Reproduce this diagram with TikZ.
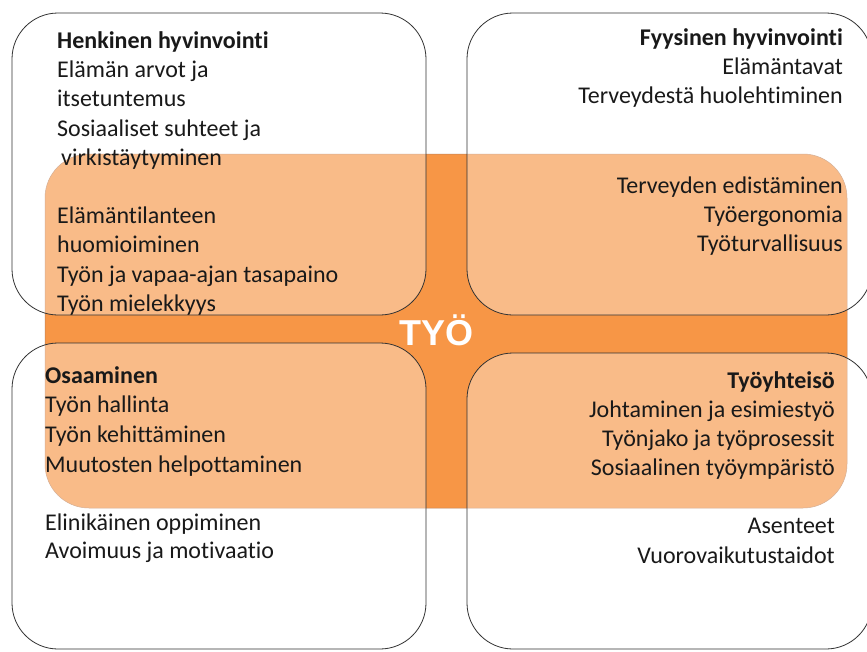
\documentclass[tikz,border=0pt]{standalone}
\usepackage{fontspec}
\setmainfont{Carlito}[Ligatures=NoCommon]
\newfontfamily\tyofont{Liberation Sans}
\definecolor{orangedark}{RGB}{247,150,70}
\definecolor{orangeedge}{RGB}{190,130,90}
\definecolor{boxline}{RGB}{50,50,50}
\definecolor{txt}{RGB}{25,25,25}
\begin{document}
\begin{tikzpicture}[x=1pt,y=-1pt,
  quad/.style={draw=boxline,line width=0.8pt,fill=white,fill opacity=0.36,rounded corners=46pt},
  band/.style={fill=orangedark,draw=orangeedge,line width=0.5pt,rounded corners=44pt},
  lt/.style={anchor=base west,inner sep=0pt,text=txt,font=\fontsize{24}{29}\selectfont},
  rt/.style={anchor=base east,inner sep=0pt,text=txt,font=\fontsize{24}{29}\selectfont},
  hd/.style={font=\fontsize{24}{29}\selectfont\bfseries}]
\useasboundingbox (0,0) rectangle (867,651);
\fill[white] (0,0) rectangle (867,651);
% orange band
\draw[band] (45,154) rectangle (847,508);
% four quadrant boxes
\draw[quad] (12,13) rectangle (426,315);
\draw[quad] (467,13) rectangle (872,315);
\draw[quad] (12,343) rectangle (426,649);
\draw[quad] (467,353) rectangle (872,649);
% top-left texts
\node[lt,hd] (h1) at (57,48.5) {Henkinen hyvinvointi};
\node[lt] (a1) at (57,77.7) {Elämän arvot ja};
\node[lt] (a2) at (57,106.9) {itsetuntemus};
\node[lt] (a3) at (57,136.1) {Sosiaaliset suhteet ja};
\node[lt] (a4) at (61,165.3) {virkistäytyminen};
\node[lt] (a5) at (57,223.7) {Elämäntilanteen};
\node[lt] (a6) at (57,252.9) {huomioiminen};
\node[lt] (a7) at (57,282.1) {Työn ja vapaa-ajan tasapaino};
\node[lt] (a8) at (57,311.3) {Työn mielekkyys};
% top-right texts
\node[rt,hd] (h2) at (843,45) {Fyysinen hyvinvointi};
\node[rt] (b1) at (843,74) {Elämäntavat};
\node[rt] (b2) at (843,103) {Terveydestä huolehtiminen};
\node[rt] (b3) at (843,193) {Terveyden edistäminen};
\node[rt] (b4) at (843,222) {Työergonomia};
\node[rt] (b5) at (843,251) {Työturvallisuus};
% bottom-left texts
\node[lt,hd] (h3) at (45,383) {Osaaminen};
\node[lt] (c1) at (45,412) {Työn hallinta};
\node[lt] (c2) at (45,442) {Työn kehittäminen};
\node[lt] (c3) at (45,472) {Muutosten helpottaminen};
\node[lt] (c4) at (45,530) {Elinikäinen oppiminen};
\node[lt] (c5) at (45,558) {Avoimuus ja motivaatio};
% bottom-right texts
\node[rt,hd] (h4) at (835,388) {Työyhteisö};
\node[rt] (d1) at (835,417) {Johtaminen ja esimiestyö};
\node[rt] (d2) at (835,446) {Työnjako ja työprosessit};
\node[rt] (d3) at (835,475) {Sosiaalinen työympäristö};
\node[rt] (d4) at (835,533) {Asenteet};
\node[rt] (d5) at (835,563) {Vuorovaikutustaidot};
% centre label
\node[anchor=base,inner sep=0pt,text=white,font=\tyofont\bfseries\fontsize{36}{42}\selectfont] (tyo) at (436,345) {TYÖ};
\end{tikzpicture}
\end{document}
